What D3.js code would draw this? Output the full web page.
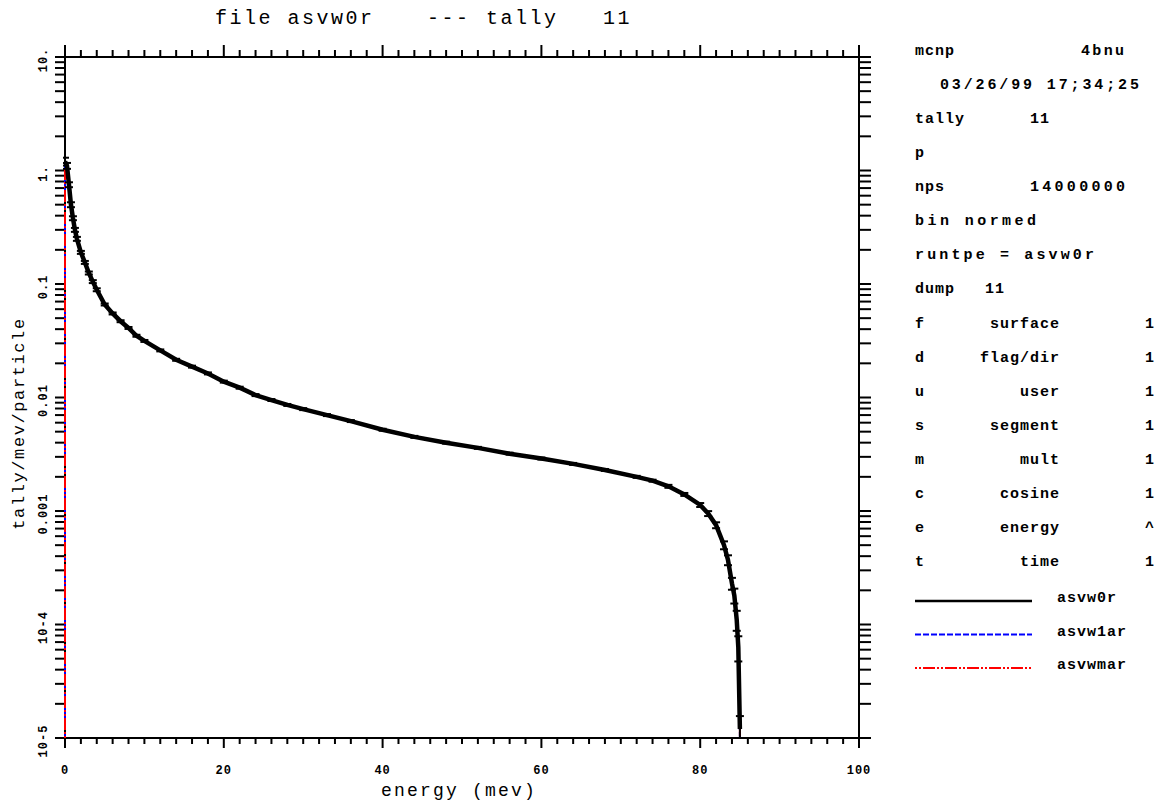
<!DOCTYPE html>
<html>
<head>
<meta charset="utf-8">
<script src="https://cdn.jsdelivr.net/npm/d3@7"></script>
<style>
  body { margin: 0; background: #fff; }
  text { font-family: "Liberation Mono", "DejaVu Sans Mono", monospace; fill: #000; }
  .title { font-size: 20px; }
  .info { font-size: 15px; font-weight: bold; }
  .tickLabel { font-size: 12px; font-weight: bold; letter-spacing: 1px; }
</style>
</head>
<body>
<div id="chart"></div>
<script>
const width = 1158;
const height = 803;

// energy bins (mev) and tally values
const energy = [0, 0.25, 0.5, 0.75, 1, 1.25, 1.5, 2, 2.5, 3, 3.5, 4, 5, 6, 7, 8, 9, 10, 12, 14,
  16, 18, 20, 22, 24, 26, 28, 30, 33, 36, 40, 44, 48, 52, 56, 60, 64, 68, 72, 74,
  76, 78, 80, 81, 82, 83, 83.5, 84, 84.3, 84.6, 84.8, 85];
const asvw0r = [1.2, 1.1, 0.75, 0.5, 0.38, 0.30, 0.25, 0.19, 0.155, 0.125, 0.105, 0.089, 0.066, 0.055, 0.047, 0.041, 0.035, 0.0315, 0.026, 0.0215,
  0.0187, 0.0163, 0.0138, 0.0122, 0.0105, 0.0095, 0.0086, 0.0079, 0.0070, 0.0062, 0.0052, 0.0045, 0.0040, 0.0036, 0.0032, 0.0029, 0.0026, 0.0023, 0.0020, 0.00185,
  0.00165, 0.0014, 0.00113, 0.00095, 0.00075, 0.00050, 0.00037, 0.00023, 0.00018, 0.00011, 6.3e-5, 1.2e-5];
const asvw1ar = [1.2, 1.1, 0.76, 0.5, 0.38, 0.30, 0.25, 0.19, 0.155, 0.125, 0.105, 0.089, 0.066, 0.055, 0.047, 0.041, 0.035, 0.0315, 0.026, 0.0215,
  0.0187, 0.0163, 0.0138, 0.0122, 0.0105, 0.0095, 0.0086, 0.0079, 0.0070, 0.0062, 0.0052, 0.0045, 0.0040, 0.0036, 0.0032, 0.0029, 0.0026, 0.0023, 0.0020, 0.00185,
  0.00165, 0.0014, 0.00113, 0.00095, 0.00075, 0.00050, 0.00037, 0.00023, 0.00018, 0.00011, 6.0e-5, 1.1e-5];
const asvwmar = [1.2, 1.1, 0.75, 0.5, 0.38, 0.30, 0.25, 0.19, 0.155, 0.125, 0.105, 0.089, 0.066, 0.055, 0.047, 0.041, 0.035, 0.0315, 0.026, 0.0215,
  0.0187, 0.0163, 0.0138, 0.0122, 0.0105, 0.0095, 0.0086, 0.0079, 0.0070, 0.0062, 0.0052, 0.0045, 0.0040, 0.0036, 0.0032, 0.0029, 0.0026, 0.0023, 0.0020, 0.00185,
  0.00165, 0.0014, 0.00113, 0.00095, 0.00075, 0.00050, 0.00037, 0.00023, 0.00018, 0.00011, 6.5e-5, 1.3e-5];
// relative errors of asvw0r
const relErr = [0.08, 0.06, 0.05, 0.05, 0.04, 0.04, 0.04, 0.03, 0.03, 0.03, 0.03, 0.03, 0.02, 0.02, 0.02, 0.02, 0.02, 0.02, 0.02, 0.02,
  0.02, 0.02, 0.02, 0.02, 0.02, 0.02, 0.02, 0.02, 0.02, 0.02, 0.02, 0.02, 0.02, 0.02, 0.02, 0.02, 0.02, 0.02, 0.02, 0.02,
  0.03, 0.03, 0.04, 0.05, 0.06, 0.08, 0.10, 0.12, 0.15, 0.2, 0.25, 0.3];

const xTickValues = [0, 20, 40, 60, 80, 100];
const yDecades = [1e-5, 1e-4, 1e-3, 1e-2, 1e-1, 1, 10];
const yTickLabels = ["10-5", "10-4", "0.001", "0.01", "0.1", "1.", "10."];

const titleParts = [["file asvw0r", 215], ["---", 427], ["tally", 486], ["11", 603]];

// right-hand info block: [text, x, anchor, textLength]
const infoRows = [
  [["mcnp", 915, "start"], ["4bnu", 1081, "start", 44]],
  [["03/26/99 17;34;25", 940, "start", 200]],
  [["tally", 915, "start"], ["11", 1030, "start"]],
  [["p", 915, "start"]],
  [["nps", 915, "start"], ["14000000", 1030, "start", 96]],
  [["bin normed", 915, "start", 122]],
  [["runtpe = asvw0r", 915, "start", 180]],
  [["dump", 915, "start"], ["11", 985, "start"]],
  [["f", 915, "start"], ["surface", 1060, "end"], ["1", 1145, "start"]],
  [["d", 915, "start"], ["flag/dir", 1060, "end"], ["1", 1145, "start"]],
  [["u", 915, "start"], ["user", 1060, "end"], ["1", 1145, "start"]],
  [["s", 915, "start"], ["segment", 1060, "end"], ["1", 1145, "start"]],
  [["m", 915, "start"], ["mult", 1060, "end"], ["1", 1145, "start"]],
  [["c", 915, "start"], ["cosine", 1060, "end"], ["1", 1145, "start"]],
  [["e", 915, "start"], ["energy", 1060, "end"], ["^", 1145, "start"]],
  [["t", 915, "start"], ["time", 1060, "end"], ["1", 1145, "start"]]
];

const series = [
  { name: "asvw1ar", values: asvw1ar, color: "#0000ff", width: 2, dash: "6,2" },
  { name: "asvwmar", values: asvwmar, color: "#ff0000", width: 2, dash: "2,2,2,2,12,2" },
  { name: "asvw0r",  values: asvw0r,  color: "#000000", width: 4.5, dash: null }
];

const margin = { top: 57, right: 299, bottom: 65, left: 65 };

const svg = d3.select("#chart").append("svg")
  .attr("width", width)
  .attr("height", height);

const x = d3.scaleLinear()
  .domain([0, 100])
  .range([margin.left, width - margin.right]);

const y = d3.scaleLog()
  .domain([1e-5, 10])
  .range([height - margin.bottom, margin.top])
  .clamp(true);

const x0 = x.range()[0], x1 = x.range()[1];
const yB = y.range()[0], yT = y.range()[1];

svg.append("clipPath").attr("id", "plotClip")
  .append("rect")
  .attr("x", x0 - 2).attr("y", yT - 2)
  .attr("width", x1 - x0 + 2).attr("height", yB - yT + 2);

// frame
svg.append("rect")
  .attr("x", x0).attr("y", yT)
  .attr("width", x1 - x0).attr("height", yB - yT)
  .attr("fill", "none")
  .attr("stroke", "#000")
  .attr("stroke-width", 2);

// x ticks: minor every 2, major every 20
const xMinor = d3.range(0, 101, 2);
const tickG = svg.append("g").attr("stroke", "#000").attr("stroke-width", 2);
xMinor.forEach(v => {
  const major = v % 20 === 0;
  tickG.append("line")
    .attr("x1", x(v)).attr("x2", x(v))
    .attr("y1", yT).attr("y2", yT - (major ? 12 : 7));
  tickG.append("line")
    .attr("x1", x(v)).attr("x2", x(v))
    .attr("y1", yB).attr("y2", yB + (major ? 10 : 6));
});

// y ticks: 1..9 of each decade, on both sides
yDecades.forEach(d => {
  const n = d === 10 ? 1 : 9;
  for (let k = 1; k <= n; k++) {
    const v = d * k;
    tickG.append("line")
      .attr("x1", x0).attr("x2", x0 - 10)
      .attr("y1", y(v)).attr("y2", y(v));
    tickG.append("line")
      .attr("x1", x1).attr("x2", x1 + 12)
      .attr("y1", y(v)).attr("y2", y(v));
  }
});

svg.selectAll("text.xLabel")
  .data(xTickValues)
  .enter()
  .append("text")
  .attr("class", "tickLabel xLabel")
  .attr("x", d => x(d))
  .attr("y", yB + 36)
  .style("text-anchor", "middle")
  .text(d => d);

svg.selectAll("text.yLabel")
  .data(yDecades)
  .enter()
  .append("text")
  .attr("class", "tickLabel yLabel")
  .attr("transform", d => `translate(47,${y(d) + 3}) rotate(-90)`)
  .style("text-anchor", "middle")
  .text((d, i) => yTickLabels[i]);

// axis titles
svg.append("text")
  .attr("x", (x0 + x1) / 2 - 3)
  .attr("y", yB + 58)
  .style("text-anchor", "middle")
  .style("font-size", "18px")
  .style("letter-spacing", "2.2px")
  .text("energy (mev)");

svg.append("text")
  .attr("transform", `translate(24,${(yT + yB) / 2 + 26}) rotate(-90)`)
  .style("text-anchor", "middle")
  .style("font-size", "17px")
  .style("letter-spacing", "1.6px")
  .text("tally/mev/particle");

// title
svg.selectAll("text.title")
  .data(titleParts)
  .enter()
  .append("text")
  .attr("class", "title")
  .attr("x", d => d[1])
  .attr("y", 24)
  .style("letter-spacing", "2.5px")
  .text(d => d[0]);

// curves, drawn over the frame
const plot = svg.append("g").attr("clip-path", "url(#plotClip)");
const line = d3.line()
  .x(d => x(d.e))
  .y(d => y(Math.max(d.v, 1e-5)));

series.forEach(s => {
  let pts = energy.map((e, i) => ({ e: e, v: s.values[i] }));
  // blue and red runs are drawn as histograms closed down to the axis floor
  if (s.dash) {
    pts = [{ e: energy[0], v: 1e-5 }].concat(pts, [{ e: energy[energy.length - 1], v: 1e-5 }]);
  }
  plot.append("path")
    .datum(pts)
    .attr("fill", "none")
    .attr("stroke", s.color)
    .attr("stroke-width", s.width)
    .attr("stroke-dasharray", s.dash)
    .attr("d", line);
});

// error bars on asvw0r
const errG = plot.append("g").attr("stroke", "#000").attr("stroke-width", 2);
energy.forEach((e, i) => {
  const v = asvw0r[i];
  const lo = v * (1 - relErr[i]), hi = v * (1 + relErr[i]);
  errG.append("line")
    .attr("x1", x(e)).attr("x2", x(e))
    .attr("y1", y(lo)).attr("y2", y(hi));
  [lo, hi].forEach(b => {
    errG.append("line")
      .attr("x1", x(e) - 4).attr("x2", x(e) + 4)
      .attr("y1", y(b)).attr("y2", y(b));
  });
});

// info block
const rowY0 = 55, rowStep = 34.07;
infoRows.forEach((row, r) => {
  row.forEach(item => {
    const t = svg.append("text")
      .attr("class", "info")
      .attr("x", item[1])
      .attr("y", rowY0 + r * rowStep)
      .style("text-anchor", item[2])
      .style("letter-spacing", "1px")
      .text(item[0]);
    if (item[3]) t.attr("textLength", item[3]).attr("lengthAdjust", "spacing");
  });
});

// legend
const legendY0 = 601, legendStep = 33.5;
["asvw0r", "asvw1ar", "asvwmar"].forEach((name, i) => {
  const s = series.find(d => d.name === name);
  const ly = legendY0 + i * legendStep;
  svg.append("line")
    .attr("x1", 915).attr("x2", 1032)
    .attr("y1", ly).attr("y2", ly)
    .attr("stroke", s.color)
    .attr("stroke-width", name === "asvw0r" ? 2.5 : 2)
    .attr("stroke-dasharray", s.dash);
  svg.append("text")
    .attr("class", "info")
    .attr("x", 1057)
    .attr("y", ly + 1)
    .style("letter-spacing", "1px")
    .text(name);
});
</script>
</body>
</html>
